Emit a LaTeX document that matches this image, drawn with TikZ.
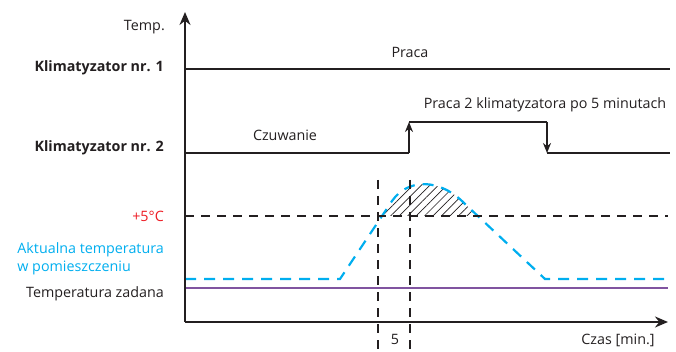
\documentclass[tikz,border=0pt]{standalone}
\usepackage{fontspec}
\setmainfont{Open Sans}
\usetikzlibrary{arrows.meta,patterns.meta}
\definecolor{acyan}{RGB}{0,174,239}
\definecolor{ared}{RGB}{237,28,36}
\definecolor{apurple}{RGB}{128,84,160}
\definecolor{atext}{RGB}{35,31,32}
\tikzset{
  axis/.style={line width=2pt,draw=atext,-{Stealth[length=13pt,width=11pt]}},
  sig/.style={line width=2pt,draw=atext},
  steparrow/.style={line width=2pt,draw=atext,-{Stealth[length=10pt,width=8pt]}},
  blackdash/.style={line width=1.8pt,draw=atext,dash pattern=on 9pt off 7pt},
  cyandash/.style={line width=2.2pt,draw=acyan,dash pattern=on 11pt off 8pt},
  lbl/.style={font=\fontsize{14.3}{18}\selectfont,text=atext,inner sep=0pt},
  lblb/.style={lbl,font=\fontsize{14.3}{18}\selectfont\bfseries},
}
\begin{document}
\begin{tikzpicture}[x=1pt,y=-1pt]
\useasboundingbox (0,0) rectangle (676,352);
% coordinates
\coordinate (O) at (185,322);
\coordinate (Ytop) at (185,12);
\coordinate (Xend) at (668,322);
\coordinate (k1a) at (185,69);
\coordinate (k1b) at (670,69);
\coordinate (k2a) at (185,153);
\coordinate (k2b) at (409,153);
\coordinate (k2c) at (409,122);
\coordinate (k2d) at (547,122);
\coordinate (k2e) at (547,153);
\coordinate (k2f) at (670,153);
\coordinate (t5a) at (185,216);
\coordinate (t5b) at (668,216);
\coordinate (v1a) at (378,180);
\coordinate (v1b) at (378,352);
\coordinate (v2a) at (410,180);
\coordinate (v2b) at (410,352);
\coordinate (pa) at (185,288);
\coordinate (pb) at (668,288);
% hatch
\begin{scope}
\clip (300,216) rectangle (520,150);
\path[pattern={Lines[angle=45,distance=6pt,line width=0.7pt]},pattern color=atext]
  (340,279) -- (392,201) .. controls (408,178) and (440,178) .. (465,204) -- (545,279) -- cycle;
\end{scope}
% set temp
\draw[line width=2pt,draw=apurple] (pa) -- (pb);
% current temp
\draw[cyandash] (185,279) -- (340,279) -- (392,201) .. controls (408,178) and (440,178) .. (465,204) -- (545,279) -- (668,279);
% +5 line
\draw[blackdash] (t5a) -- (t5b);
\draw[blackdash] (v1a) -- (v1b);
\draw[blackdash] (v2a) -- (v2b);
% axes
\draw[axis] (O) -- (Ytop);
\draw[axis] (O) -- (Xend);
% signals
\draw[sig] (k1a) -- (k1b);
\draw[sig] (k2a) -- (k2b);
\draw[steparrow] (k2b) -- (k2c);
\draw[sig] (k2c) -- (k2d);
\draw[steparrow] (k2d) -- (k2e);
\draw[sig] (k2e) -- (k2f);
% labels
\node[lbl,anchor=east] (ltemp) at (165,27) {Temp.};
\node[lblb,anchor=east] (lk1) at (164,68) {Klimatyzator nr. 1};
\node[lblb,anchor=east] (lk2) at (164,148) {Klimatyzator nr. 2};
\node[lbl,anchor=east,text=ared] (l5) at (164,216) {+5\textdegree C};
\node[lbl,anchor=east,text=acyan,align=left] (lakt) at (164,259) {Aktualna temperatura\\w pomieszczeniu};
\node[lbl,anchor=east] (lzad) at (164,294) {Temperatura zadana};
\node[lbl] (lpraca) at (410,52) {Praca};
\node[lbl] (lczuw) at (285,135) {Czuwanie};
\node[lbl] (lpraca2) at (545,105) {Praca 2 klimatyzatora po 5 minutach};
\node[lbl] (lczas) at (618,340) {Czas [min.]};
\node[lbl] (l5min) at (395,339) {5};
\end{tikzpicture}
\end{document}
